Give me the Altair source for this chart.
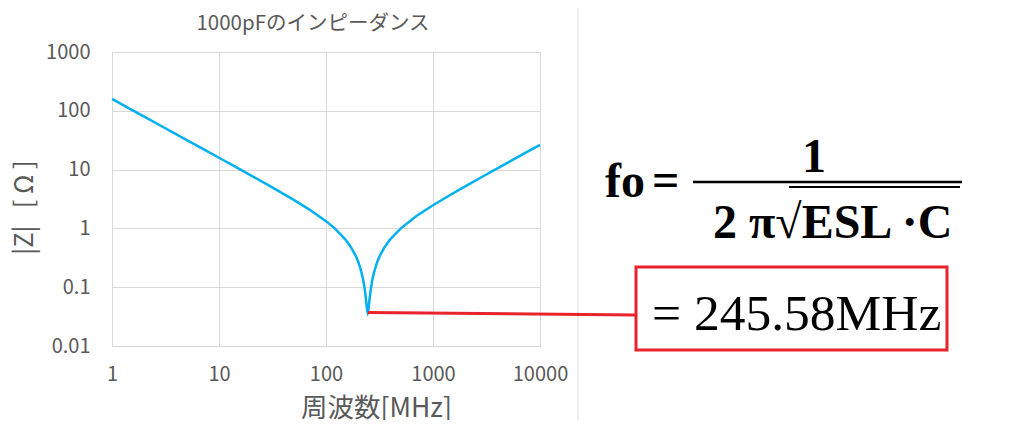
import altair as alt
import pandas as pd

# Impedance curve (frequency in MHz, |Z| in ohm)
freq_mhz = [1, 1.5, 2, 3, 5, 7, 10, 15, 20, 30, 50, 70, 100, 120, 150, 170, 190, 200,
            210, 220, 225, 230, 235, 240, 243, 245.58, 248, 250, 255, 260, 270, 280,
            300, 320, 350, 400, 500, 700, 1000, 1500, 2000, 3000, 5000, 7000, 10000]
z_ohm = [159.15, 106.10, 79.57, 53.04, 31.82, 22.72, 15.89, 10.57, 7.905, 5.226, 3.051,
         2.089, 1.328, 1.010, 0.666, 0.489, 0.338, 0.2705, 0.207, 0.1476, 0.1195, 0.0928,
         0.0681, 0.0475, 0.0395, 0.037, 0.0391, 0.0436, 0.0612, 0.0827, 0.1284, 0.1745,
         0.2638, 0.349, 0.4701, 0.6587, 1.0017, 1.6204, 2.480, 3.852, 5.198, 7.864,
         13.163, 18.450, 26.373]

x_ticks = [1, 10, 100, 1000, 10000]
y_ticks = [0.01, 0.1, 1, 10, 100, 1000]

resonance_f = [245.58]
resonance_z = [0.037]

chart_title = "1000pFのインピーダンス"
x_title = "周波数[MHz]"
y_title = "|Z|\u00a0\u00a0\u00a0[\u00a0Ω\u00a0]"
formula_lhs = "fo"
formula_eq = "="
formula_num = "1"
formula_den = "2 π√ESL ·C"
result_text = "= 245.58MHz"

df = pd.DataFrame({"f": freq_mhz, "z": z_ohm})
res = pd.DataFrame({"f": resonance_f, "z": resonance_z})
one = pd.DataFrame({"a": [0]})

GRAY = "#595959"
GRID = "#d9d9d9"
RED = "#e8232b"
SANS = "Noto Sans CJK JP"
SERIF = "Liberation Serif"

xs = alt.Scale(type="log", domain=[1, 10000], nice=False)
ys = alt.Scale(type="log", domain=[0.01, 1000], nice=False)

x_enc = alt.X("f:Q", scale=xs, title=x_title,
              axis=alt.Axis(values=x_ticks, format="d", grid=True, gridColor=GRID,
                            domain=False, ticks=False, labelFontSize=20, labelFont=SANS,
                            labelColor=GRAY, labelPadding=18, labelFlush=False,
                            titleFont=SANS, titleFontSize=26.5, titleFontWeight="normal",
                            titleColor=GRAY, titleAlign="center", titleBaseline="middle",
                            titleX=264, titleY=62))
y_enc = alt.Y("z:Q", scale=ys, title=y_title,
              axis=alt.Axis(values=y_ticks, grid=True, gridColor=GRID, domain=False,
                            ticks=False, labelFontSize=20, labelFont=SANS, labelColor=GRAY,
                            labelPadding=22,
                            labelExpr="datum.value < 1 ? format(datum.value, '.2~f') : format(datum.value, 'd')",
                            titleFont=SANS, titleFontSize=25.5, titleFontWeight="normal",
                            titleColor=GRAY, titleAngle=270, titleAlign="center",
                            titleBaseline="middle", titleX=-88, titleY=155))

curve = alt.Chart(df).mark_line(color="#00b0f0", strokeWidth=2.5).encode(x=x_enc, y=y_enc)

red_line = alt.Chart(res).mark_rule(color=RED, strokeWidth=3).encode(
    x=alt.X("f:Q", scale=xs), y=alt.Y("z:Q", scale=ys),
    x2=alt.value(524), y2=alt.value(263))

box = alt.Chart(one).mark_rect(fill="white", stroke=RED, strokeWidth=3).encode(
    x=alt.value(524), x2=alt.value(835), y=alt.value(215), y2=alt.value(298))

sep = alt.Chart(one).mark_rule(color=GRID, strokeWidth=1).encode(
    x=alt.value(466), y=alt.value(-52), y2=alt.value(370))

bar = alt.Chart(one).mark_rule(color="black", strokeWidth=2.5).encode(
    x=alt.value(581), x2=alt.value(850), y=alt.value(130))
vinc = alt.Chart(one).mark_rule(color="black", strokeWidth=2).encode(
    x=alt.value(677), x2=alt.value(848), y=alt.value(135))

def txt(s, x, y, size, font, color="black", align="left", baseline="alphabetic",
        weight="normal", angle=0):
    return alt.Chart(one).mark_text(text=s, fontSize=size, font=font, color=color,
                                    align=align, baseline=baseline, fontWeight=weight,
                                    angle=angle).encode(x=alt.value(x), y=alt.value(y))

layers = [
    sep, curve, red_line, box,
    txt(chart_title, 201, -28, 20.5, SANS, GRAY, "center", "middle"),
    txt(formula_lhs, 493, 145, 48, SERIF, weight="bold"),
    txt(formula_eq, 540, 144, 48, SERIF, weight="bold"),
    txt(formula_num, 702, 120, 48, SERIF, align="center", weight="bold"),
    txt(formula_den, 601, 186, 48, SERIF, weight="bold"),
    bar, vinc,
    txt(result_text, 540, 278, 51.5, SERIF),
]

chart = alt.layer(*layers).properties(
    width=428, height=294,
    padding={"left": 104, "top": 44, "right": 476, "bottom": 74},
    autosize=alt.AutoSizeParams(type="none"),
).configure_view(stroke=None).configure(background="white")

chart.save("out.html", embed_options={"renderer": "svg", "actions": False})
